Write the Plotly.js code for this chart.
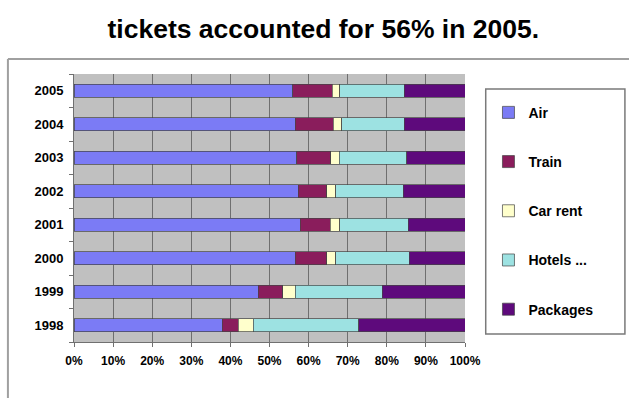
<!DOCTYPE html>
<html>
<head>
<meta charset="utf-8">
<script src="https://cdn.plot.ly/plotly-3.0.1.min.js"></script>
<style>html,body{margin:0;padding:0;background:#fff;}#chart{width:629px;height:398px;}</style>
</head>
<body>
<div id="chart"></div>
<script>
const years = ["1998","1999","2000","2001","2002","2003","2004","2005"];
const seriesNames = ["Air","Train","Car rent","Hotels ...","Packages"];
const air      = [37.9, 47.1, 56.6, 57.8, 57.3, 57.0, 56.6, 56.0];
const train    = [4.1, 6.3, 8.0, 7.7, 7.3, 8.6, 9.7, 10.0];
const carRent  = [3.9, 3.2, 2.4, 2.5, 2.4, 2.3, 2.2, 2.0];
const hotels   = [26.9, 22.2, 18.7, 17.5, 17.2, 17.2, 15.9, 16.4];
const packages = [27.2, 21.2, 14.3, 14.5, 15.8, 14.9, 15.6, 15.6];
const xTickVals = [0,10,20,30,40,50,60,70,80,90,100];
const xTickText = ["0%","10%","20%","30%","40%","50%","60%","70%","80%","90%","100%"];
const colors = ["#7b7bf5","#8a1d5c","#ffffcc","#9de2e2","#5e0a7c"];
const values = [air, train, carRent, hotels, packages];

const traces = values.map((v, i) => ({
  type: "bar",
  orientation: "h",
  y: years,
  x: v,
  name: seriesNames[i],
  legendgroup: "g" + i,
  marker: {color: colors[i], line: {color: "#444444", width: 0.7}},
  hoverinfo: "x+name"
}));

const FONT = "'Liberation Sans', Arial, sans-serif";
const layout = {
  width: 629, height: 398,
  margin: {l: 74, r: 164, t: 74, b: 56, pad: 0},
  paper_bgcolor: "#ffffff",
  plot_bgcolor: "#c0c0c0",
  barmode: "stack",
  bargap: 0.6,
  title: {
    text: "tickets accounted for 56% in 2005.",
    font: {family: FONT, size: 26.5, color: "#000", weight: "bold"},
    x: 0.514, xanchor: "center", xref: "container",
    y: 0.928, yanchor: "middle", yref: "container"
  },
  xaxis: {
    range: [0, 100],
    tickvals: xTickVals, ticktext: xTickText,
    showgrid: true, gridcolor: "#6f6f6f", gridwidth: 1,
    ticks: "outside", ticklen: 4, tickcolor: "#707070",
    showline: true, linecolor: "#707070", linewidth: 1,
    zeroline: false,
    tickfont: {family: FONT, size: 12, color: "#000", weight: "bold"},
    ticklabelstandoff: 4,
    fixedrange: true
  },
  yaxis: {
    type: "category",
    categoryorder: "array", categoryarray: years,
    tickson: "boundaries",
    ticks: "outside", ticklen: 4, tickcolor: "#707070",
    showgrid: false,
    showline: true, linecolor: "#707070", linewidth: 1,
    tickfont: {family: FONT, size: 13, color: "#000", weight: "bold"},
    ticklabelstandoff: 7,
    fixedrange: true
  },
  legend: {
    x: 1.06, xanchor: "left", xref: "paper",
    y: 0.915, yanchor: "top", yref: "paper",
    traceorder: "grouped",
    tracegroupgap: 28,
    bgcolor: "rgba(0,0,0,0)",
    borderwidth: 0,
    font: {family: FONT, size: 14, color: "#000", weight: "bold"},
    itemwidth: 30
  },
  shapes: [
    {type: "rect", xref: "paper", yref: "paper",
     x0: 1.053, x1: 1.409, y0: 0.030, y1: 0.944,
     line: {color: "#7a7a7a", width: 1.5}, fillcolor: "rgba(0,0,0,0)", layer: "below"},
    {type: "line", xref: "paper", yref: "paper",
     x0: -0.169, x1: 1.42, y0: 1.056, y1: 1.056,
     line: {color: "#a0a0a0", width: 2}},
    {type: "line", xref: "paper", yref: "paper",
     x0: -0.169, x1: -0.169, y0: 1.056, y1: -0.22,
     line: {color: "#a0a0a0", width: 2}}
  ],
  showlegend: true
};

Plotly.newPlot("chart", traces, layout, {displayModeBar: false, staticPlot: true});
</script>
</body>
</html>
